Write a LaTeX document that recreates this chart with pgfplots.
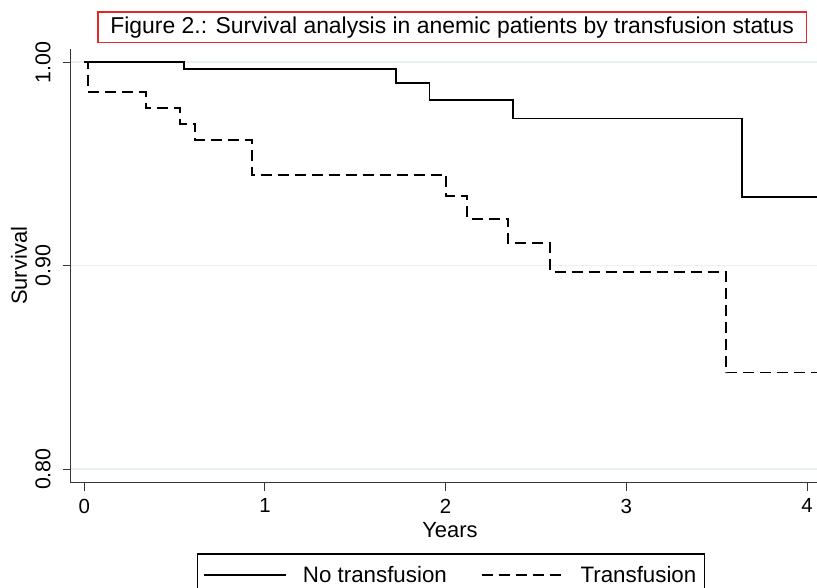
\documentclass[border=0pt]{standalone}
\usepackage{fontspec}
\setmainfont{Liberation Sans}
\usepackage{pgfplots}
\pgfplotsset{compat=1.18}
\definecolor{gridc}{RGB}{232,240,242}
\definecolor{titlered}{RGB}{228,40,40}
\definecolor{axc}{RGB}{55,55,55}

\begin{document}
\begin{tikzpicture}[x=1bp,y=1bp]
\path[use as bounding box] (-70.7,-105.3) rectangle (746.3,482.7);
\begin{axis}[
  at={(0,0)}, anchor=south west,
  scale only axis, width=746.3bp, height=433.7bp,
  xmin=-0.075, xmax=4.055, ymin=0.7933, ymax=1.0065,
  axis x line*=bottom, axis y line*=left,
  axis line style={-, line width=1.2bp, color=axc},
  xtick={0,1,2,3,4}, xticklabels={0,1,2,3,4},
  ytick={0.8,0.9,1.0},
  yticklabels={\rotatebox{90}{0.80},\rotatebox{90}{0.90},\rotatebox{90}{1.00}},
  tick align=outside, major tick length=8bp,
  tick style={line width=1bp, color=axc},
  ymajorgrids, grid style={gridc, line width=1.5bp},
  xticklabel style={font=\fontsize{20.5}{24}\selectfont, anchor=north, inner sep=0pt, yshift=-8bp},
  yticklabel style={font=\fontsize{21.5}{24}\selectfont, anchor=east, inner sep=0pt, xshift=-12bp},
  xlabel={Years}, ylabel={Survival},
  label style={font=\fontsize{22}{26}\selectfont},
  xlabel style={at={(axis description cs:0.5082,-0.110)}, anchor=center},
  ylabel style={at={(axis description cs:-0.0693,0.5)}, anchor=center, rotate=0},
  legend columns=2,
  legend style={at={(axis description cs:0.1688,-0.1628)}, anchor=north west,
    draw=black, line width=1.2bp, font=\fontsize{22.4}{26}\selectfont,
    inner xsep=6bp, inner ysep=10.5bp,
    /tikz/every odd column/.append style={column sep=14bp},
    /tikz/every even column/.append style={column sep=32bp}},
  legend image code/.code={\draw[#1] (0bp,0bp) -- (82bp,0bp);},
]
\addplot[const plot, black, line width=1.7bp] coordinates {
 (0,1.0) (0.552,0.9966) (1.725,0.9897) (1.910,0.9815) (2.374,0.9723) (3.641,0.9336) (4.06,0.9336)
};
\addlegendentry{No transfusion}
\addplot[const plot, black, line width=1.7bp, dash pattern=on 11bp off 6bp] coordinates {
 (0,1.0) (0.022,0.9853) (0.341,0.9774) (0.530,0.9697) (0.614,0.9618) (0.928,0.9446)
 (2.002,0.9344) (2.120,0.9230) (2.346,0.9110) (2.578,0.8970) (3.551,0.8474) (4.06,0.8474)
};
\addlegendentry{Transfusion}
\end{axis}
\node[draw=titlered, line width=1.2bp, minimum width=708.3bp, minimum height=30.7bp,
  inner sep=0pt, font=\fontsize{23}{27}\selectfont] at (381.45,455.35)
  {Figure 2.: Survival analysis in anemic patients by transfusion status};
\end{tikzpicture}
\end{document}
